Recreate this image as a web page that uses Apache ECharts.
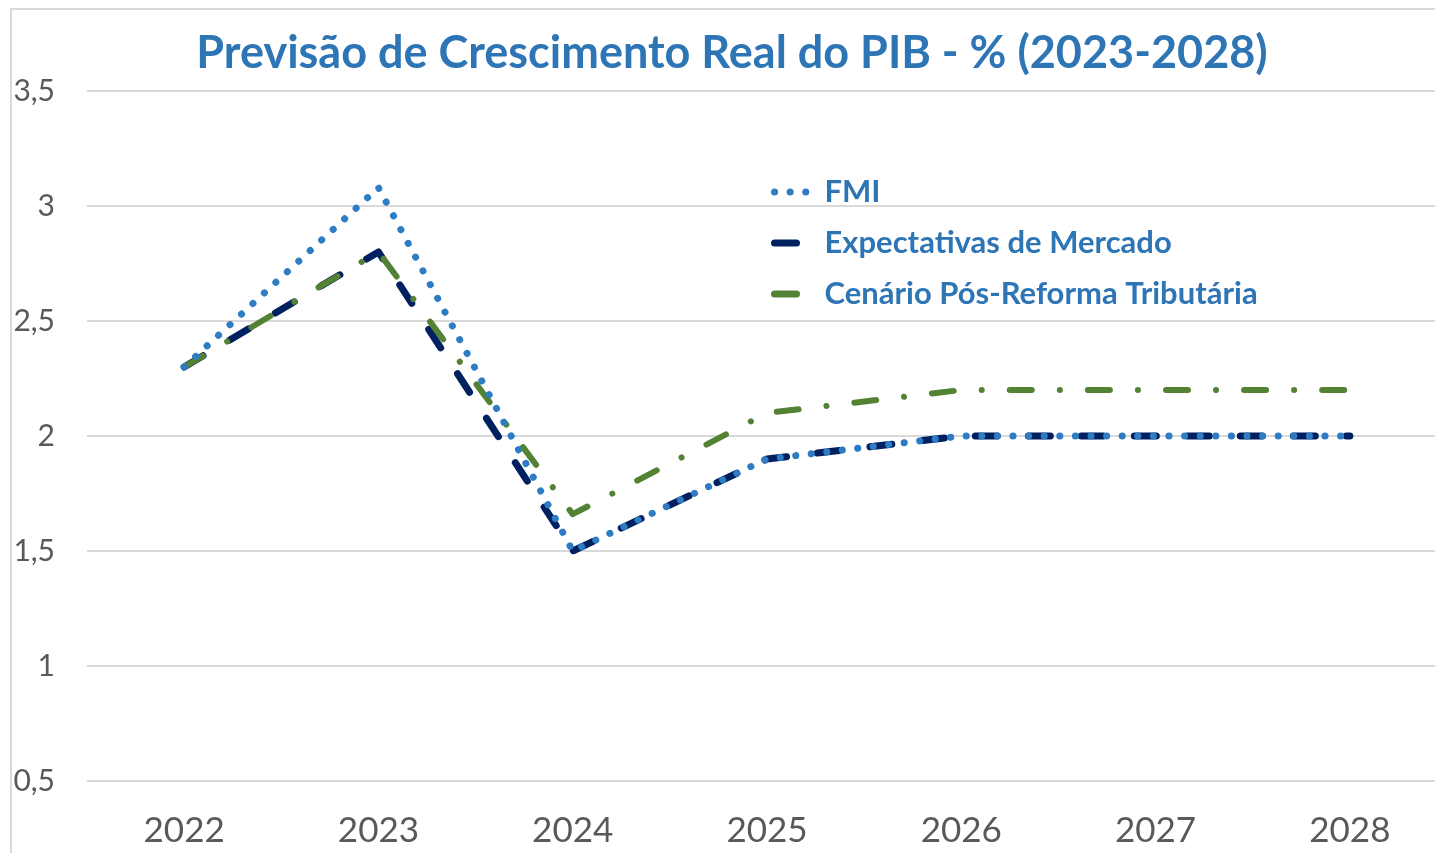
<!DOCTYPE html>
<html>
<head>
<meta charset="utf-8">
<script src="https://cdn.jsdelivr.net/npm/echarts@6/dist/echarts.min.js"></script>
<style>
  html, body { margin: 0; padding: 0; background: #fff; }
  #chart { width: 1435px; height: 853px; }
</style>
</head>
<body>
<div id="chart"></div>
<script>
(function () {
  'use strict';

  var years = ['2022', '2023', '2024', '2025', '2026', '2027', '2028'];
  var fmi = [2.3, 3.08, 1.5, 1.9, 2.0, 2.0, 2.0];
  var mercado = [2.3, 2.8, 1.5, 1.9, 2.0, 2.0, 2.0];
  var reforma = [2.3, 2.8, 1.66, 2.1, 2.2, 2.2, 2.2];

  var names = ['FMI', 'Expectativas de Mercado', 'Cenário Pós-Reforma Tributária'];

  var chart = echarts.init(document.getElementById('chart'));

  function line(name, data, color, width, dash) {
    return {
      name: name,
      type: 'line',
      data: data,
      symbol: 'none',
      lineStyle: { color: color, width: width, type: dash, cap: 'round', join: 'round' },
      itemStyle: { color: color }
    };
  }

  var option = {
    backgroundColor: '#fff',
    animation: false,
    title: {
      text: 'Previsão de Crescimento Real do PIB - % (2023-2028)',
      left: 727,
      textAlign: 'center',
      top: 26,
      textStyle: { color: '#2e75b6', fontFamily: 'Lato', fontWeight: 'bold', fontSize: 45 }
    },
    legend: {
      data: names,
      orient: 'vertical',
      left: 766,
      top: 170,
      itemWidth: 45,
      itemHeight: 14,
      itemGap: 17,
      itemStyle: { opacity: 0 },
      lineStyle: { width: 7 },
      textStyle: { color: '#2e75b6', fontFamily: 'Lato', fontWeight: 'bold', fontSize: 31, lineHeight: 34 }
    },
    grid: { left: 87, top: 91, width: 1360, height: 690, outerBoundsMode: 'none', containLabel: false },
    xAxis: {
      type: 'category',
      data: years,
      boundaryGap: true,
      axisLine: { show: false },
      axisTick: { show: false },
      axisLabel: { color: '#595959', fontFamily: 'Lato', fontSize: 35, margin: 32 }
    },
    yAxis: {
      type: 'value',
      min: 0.5,
      max: 3.5,
      interval: 0.5,
      axisLine: { show: false },
      axisTick: { show: false },
      splitLine: { lineStyle: { color: '#d9d9d9', width: 2 } },
      axisLabel: {
        color: '#595959', fontFamily: 'Lato', fontSize: 30, margin: 32,
        formatter: function (v) { return String(v).replace('.', ','); }
      }
    },
    graphic: [
      { type: 'rect', shape: { x: 11, y: 9, width: 1440, height: 860 },
        style: { fill: 'none', stroke: '#d9d9d9', lineWidth: 2 }, silent: true, z: -1 }
    ],
    series: [
      line(names[1], mercado, '#002060', 7, [22, 31]),
      line(names[2], reforma, '#548235', 6, [22, 28, 0.1, 28]),
      line(names[0], fmi, '#2e7cc4', 7, [0.1, 15.5])
    ]
  };

  chart.setOption(option);
})();
</script>
</body>
</html>
